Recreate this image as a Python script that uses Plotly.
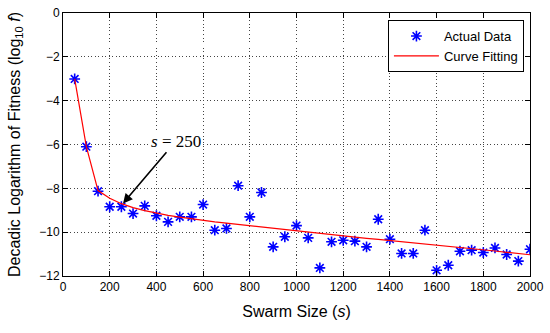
import plotly.graph_objects as go

swarm_size = list(range(50, 2001, 50))
actual = [-3.01, -6.10, -8.13, -8.84, -8.84, -9.15, -8.80, -9.25, -9.53, -9.30,
          -9.30, -8.74, -9.91, -9.83, -7.88, -9.30, -8.19, -10.67, -10.21, -9.70,
          -10.26, -11.63, -10.44, -10.37, -10.41, -10.67, -9.41, -10.32, -10.97, -10.97,
          -9.91, -11.74, -11.51, -10.87, -10.82, -10.93, -10.72, -11.02, -11.32, -10.78]
fit = [-3.01, -6.10, -8.10, -8.45, -8.70, -8.88, -9.02, -9.13, -9.23, -9.31,
       -9.39, -9.46, -9.53, -9.59, -9.65, -9.71, -9.77, -9.83, -9.88, -9.95,
       -10.00, -10.06, -10.11, -10.17, -10.22, -10.28, -10.33, -10.38, -10.44, -10.49,
       -10.54, -10.60, -10.65, -10.70, -10.76, -10.81, -10.86, -10.92, -10.97, -11.03]
x_ticks = list(range(0, 2001, 200))
y_ticks = list(range(-12, 1, 2))

fig = go.Figure()
fig.add_trace(go.Scatter(x=swarm_size, y=actual, mode="markers", name="Actual Data",
                         marker=dict(symbol="asterisk-open", size=9, color="blue",
                                     line=dict(color="blue", width=1.6))))
fig.add_trace(go.Scatter(x=swarm_size, y=fit, mode="lines", name="Curve Fitting",
                         line=dict(color="red", width=1.2)))

font = "Arial, Liberation Sans"
axis_common = dict(showline=True, linecolor="black", linewidth=1, mirror="ticks",
                   ticks="inside", ticklen=5, tickcolor="black", automargin=False,
                   showgrid=True, gridcolor="#444", griddash="1px,2.5px", gridwidth=1,
                   zeroline=False, tickfont=dict(family=font, size=12, color="black"))

fig.update_xaxes(range=[0, 2000], tickvals=x_ticks, **axis_common,
                 title=dict(text="Swarm Size (<i>s</i>)", font=dict(family=font, size=16, color="black"), standoff=12))
fig.update_yaxes(range=[-12, 0], tickvals=y_ticks, **axis_common,
                 title=dict(text="Decadic Logarithm of Fitness (log<sub>10</sub> <i>f</i>)", font=dict(family=font, size=16, color="black"), standoff=14))

fig.add_annotation(x=257, y=-8.69, ax=483, ay=-5.85, xref="x", yref="y", axref="x", ayref="y",
                   text="<i>s</i> = 250", showarrow=True, arrowhead=2, arrowsize=1.2,
                   arrowwidth=1.6, arrowcolor="black", bgcolor="white",
                   font=dict(family="Times New Roman, Liberation Serif", size=17, color="black"))

fig.update_layout(width=550, height=333, margin=dict(l=63, r=20, t=13, b=57),
                  plot_bgcolor="white", paper_bgcolor="white",
                  showlegend=True,
                  legend=dict(x=0.987, y=0.973, xanchor="right", yanchor="top",
                              bgcolor="white", bordercolor="black", borderwidth=1,
                              font=dict(family=font, size=13, color="black"),
                              tracegroupgap=0, itemwidth=45))
fig.write_html("out.html", config={"displayModeBar": False},
               post_script="document.body.style.margin='0';")
